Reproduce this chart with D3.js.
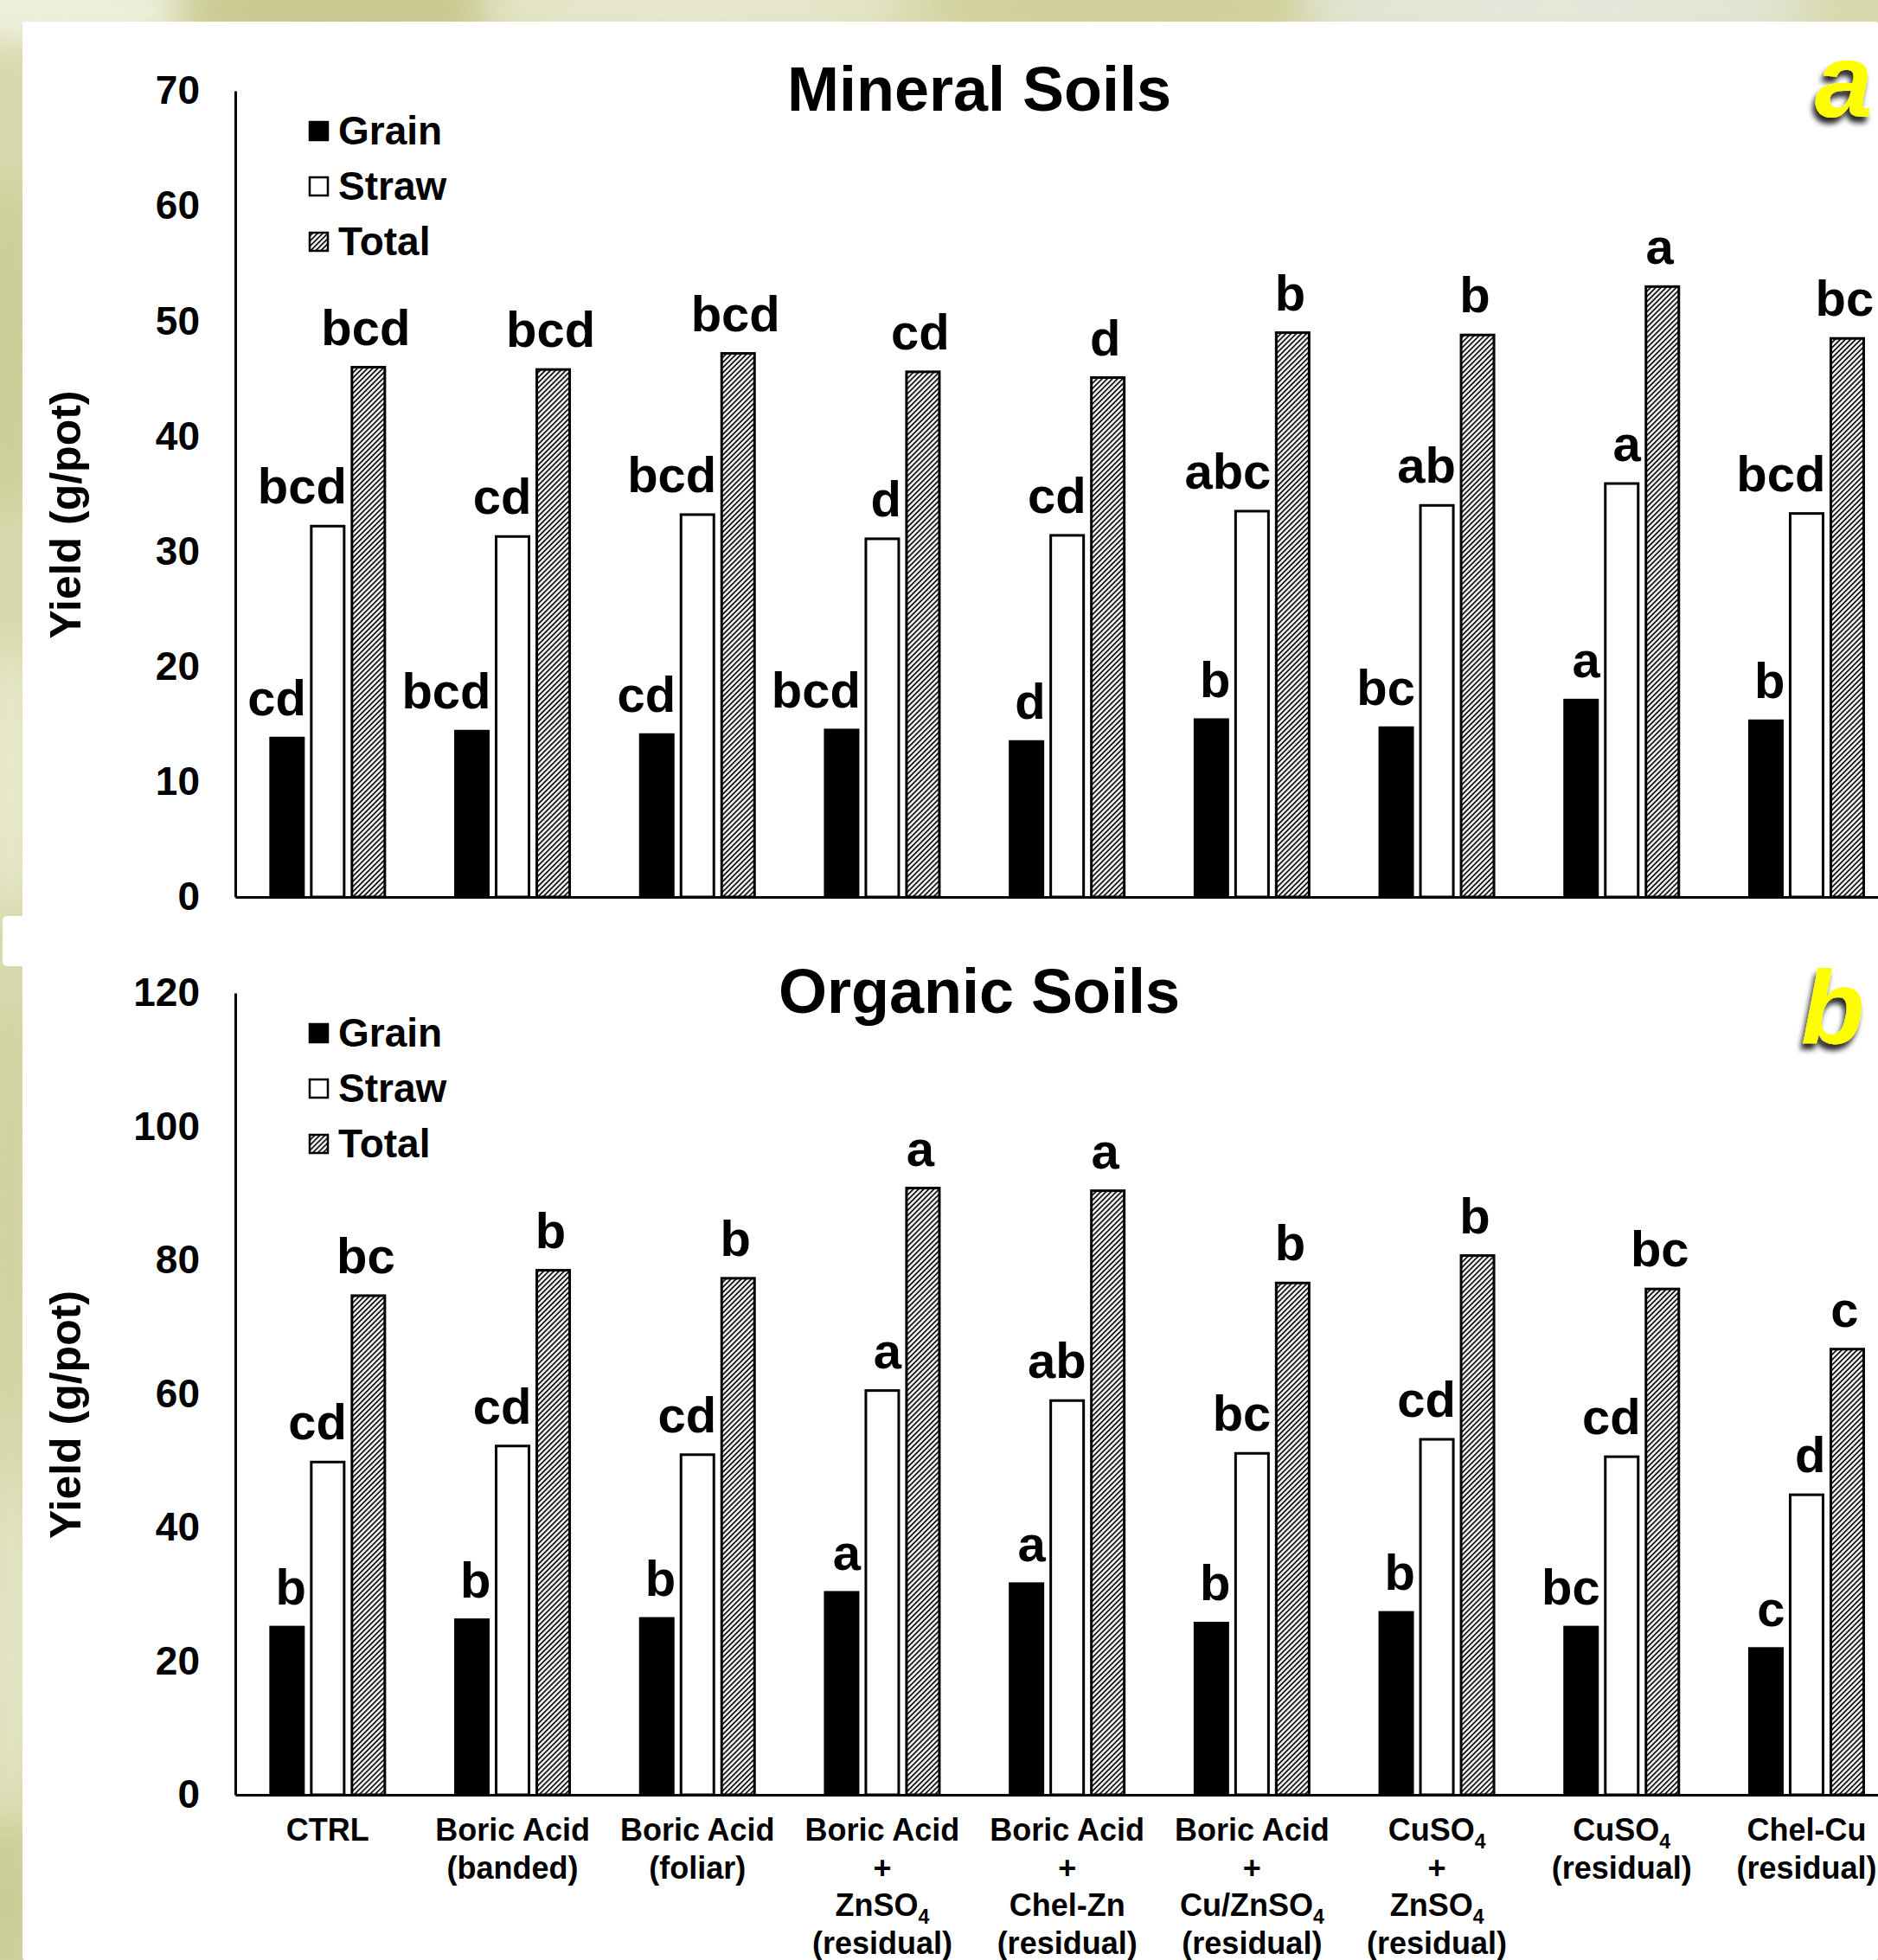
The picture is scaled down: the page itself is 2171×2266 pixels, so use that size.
<!DOCTYPE html>
<html>
<head>
<meta charset="utf-8">
<script src="https://cdn.jsdelivr.net/npm/d3@7"></script>
<style>
  html, body { margin: 0; padding: 0; background: #fff; }
  svg { display: block; }
  text { font-family: "Liberation Sans", Arial, sans-serif; font-weight: bold; fill: #000; }
</style>
</head>
<body>
<svg id="chart" width="2171" height="2266"></svg>
<script>
// ---------------- DATA ----------------
const categories = [
  "CTRL",
  "Boric Acid|(banded)",
  "Boric Acid|(foliar)",
  "Boric Acid|+|ZnSO_4|(residual)",
  "Boric Acid|+|Chel-Zn|(residual)",
  "Boric Acid|+|Cu/ZnSO_4|(residual)",
  "CuSO_4|+|ZnSO_4|(residual)",
  "CuSO_4|(residual)",
  "Chel-Cu|(residual)"
];
const seriesNames = ["Grain", "Straw", "Total"];

const mineralGrain = [13.8, 14.4, 14.1, 14.5, 13.5, 15.4, 14.7, 17.1, 15.3];
const mineralStraw = [32.2, 31.3, 33.2, 31.1, 31.4, 33.5, 34.0, 35.9, 33.3];
const mineralTotal = [46.0, 45.8, 47.2, 45.6, 45.1, 49.0, 48.8, 53.0, 48.5];
const mineralGrainLetters = ["cd", "bcd", "cd", "bcd", "d", "b", "bc", "a", "b"];
const mineralStrawLetters = ["bcd", "cd", "bcd", "d", "cd", "abc", "ab", "a", "bcd"];
const mineralTotalLetters = ["bcd", "bcd", "bcd", "cd", "d", "b", "b", "a", "bc"];
const mineralTicks = [0, 10, 20, 30, 40, 50, 60, 70];

const organicGrain = [25.1, 26.2, 26.4, 30.3, 31.6, 25.7, 27.3, 25.1, 21.9];
const organicStraw = [49.8, 52.2, 50.9, 60.5, 59.0, 51.1, 53.2, 50.6, 44.9];
const organicTotal = [74.7, 78.5, 77.3, 90.8, 90.4, 76.6, 80.7, 75.7, 66.7];
const organicGrainLetters = ["b", "b", "b", "a", "a", "b", "b", "bc", "c"];
const organicStrawLetters = ["cd", "cd", "cd", "a", "ab", "bc", "cd", "cd", "d"];
const organicTotalLetters = ["bc", "b", "b", "a", "a", "b", "b", "bc", "c"];
const organicTicks = [0, 20, 40, 60, 80, 100, 120];

// ---------------- DRAW ----------------
const svg = d3.select("#chart");
const W = 2171, H = 2266;
const defs = svg.append("defs");

defs.append("filter").attr("id", "bgblur").attr("x", "-50%").attr("y", "-50%").attr("width", "200%").attr("height", "200%")
  .append("feGaussianBlur").attr("stdDeviation", 18);
const sh = defs.append("filter").attr("id", "shadow").attr("x", "-30%").attr("y", "-30%").attr("width", "160%").attr("height", "160%");
sh.append("feDropShadow").attr("dx", -3).attr("dy", 7).attr("stdDeviation", 3).attr("flood-color", "#000").attr("flood-opacity", 0.85);

const pat = defs.append("pattern").attr("id", "hatch").attr("patternUnits", "userSpaceOnUse")
  .attr("width", 4.2).attr("height", 4.2).attr("patternTransform", "rotate(45)");
pat.append("rect").attr("width", 4.2).attr("height", 4.2).attr("fill", "#fff");
pat.append("line").attr("x1", 1).attr("y1", 0).attr("x2", 1).attr("y2", 4.2).attr("stroke", "#000").attr("stroke-width", 1.7);

// background photo-like
svg.append("rect").attr("width", W).attr("height", H).attr("fill", "#d8d9ad");
const blobs = svg.append("g").attr("filter", "url(#bgblur)");
[[60, 10, 160, 40, "#eef0dc"], [400, 12, 200, 30, "#c6c78a"], [800, 8, 250, 30, "#e8e9cf"],
 [1300, 10, 220, 35, "#cfd098"], [1800, 10, 300, 35, "#e5e7db"], [10, 400, 20, 200, "#c5c98c"],
 [12, 900, 18, 160, "#eef0d8"], [10, 1400, 18, 250, "#cdd09c"], [14, 1900, 16, 200, "#e9ead0"],
 [8, 2200, 20, 100, "#c4c88a"]]
  .forEach(b => blobs.append("ellipse").attr("cx", b[0]).attr("cy", b[1]).attr("rx", b[2]).attr("ry", b[3]).attr("fill", b[4]));

// white panels
svg.append("rect").attr("x", 26).attr("y", 25).attr("width", W - 26).attr("height", H - 25).attr("fill", "#fff").attr("rx", 3);
svg.append("rect").attr("x", 3).attr("y", 1059).attr("width", 40).attr("height", 58).attr("fill", "#fff").attr("rx", 5);

const axisX0 = 272;
const bandW = 213.7;
const x = d3.scaleBand().domain(categories).range([axisX0, axisX0 + bandW * categories.length]).padding(0);
const xs = d3.scaleBand().domain(seriesNames).range([bandW / 2 - 66, bandW / 2 + 66]).paddingInner(9 / 47).paddingOuter(0);
const fills = { Grain: "#000", Straw: "#fff", Total: "url(#hatch)" };

function drawPanel(cfg) {
  const y = d3.scaleLinear().domain([0, cfg.max]).range([cfg.y0, cfg.y1]);
  const g = svg.append("g");

  const ya = g.append("g").attr("transform", `translate(${axisX0},0)`)
    .call(d3.axisLeft(y).tickValues(cfg.ticks).tickSize(0).tickSizeOuter(0).tickPadding(41).tickFormat(d3.format("d")));
  ya.select(".domain").attr("stroke", "#000").attr("stroke-width", 3);
  ya.selectAll("text").style("font-size", "46px").style("font-weight", "bold")
    .style("font-family", '"Liberation Sans", Arial, sans-serif').attr("fill", "#000");

  const ty = (cfg.y0 + cfg.y1) / 2 + 24;
  g.append("text").attr("transform", `translate(93,${ty}) rotate(-90)`).attr("text-anchor", "middle")
    .style("font-size", "50px").text("Yield (g/pot)");

  const series = [
    { name: "Grain", vals: cfg.grain, letters: cfg.gl },
    { name: "Straw", vals: cfg.straw, letters: cfg.sl },
    { name: "Total", vals: cfg.total, letters: cfg.tl }
  ];
  series.forEach(s => {
    const bx = (i) => x(categories[i]) + xs(s.name);
    g.append("g").selectAll("rect").data(s.vals).join("rect")
      .attr("x", (d, i) => bx(i)).attr("y", d => y(d))
      .attr("width", xs.bandwidth()).attr("height", d => y(0) - y(d))
      .attr("fill", fills[s.name]).attr("stroke", "#000").attr("stroke-width", 3);
    g.append("g").selectAll("text").data(s.vals).join("text")
      .attr("x", (d, i) => s.name === "Total" ? bx(i) + xs.bandwidth() / 2 - 3 : bx(i) + xs.bandwidth() + 3)
      .attr("y", d => y(d) - 26)
      .attr("text-anchor", s.name === "Total" ? "middle" : "end")
      .style("font-size", "58px")
      .text((d, i) => s.letters[i]);
  });

  const xa = g.append("g").attr("transform", `translate(0,${cfg.y0})`)
    .call(d3.axisBottom(x).tickSize(0).tickSizeOuter(0).tickFormat(""));
  xa.select(".domain").attr("stroke", "#000").attr("stroke-width", 3);
  if (cfg.xlabels) {
    xa.selectAll(".tick text").each(function (d) {
      const t = d3.select(this).attr("y", 0).attr("dy", null)
        .style("font-size", "36px").style("font-weight", "bold")
        .style("font-family", '"Liberation Sans", Arial, sans-serif').attr("fill", "#000");
      d.split("|").forEach((line, li) => {
        const parts = line.split("_");
        t.append("tspan").attr("x", 0).attr("y", 53 + li * 43.5).text(parts[0]);
        if (parts.length > 1) {
          t.append("tspan").attr("dy", 9).style("font-size", "23px").text(parts[1]);
        }
      });
    });
  }

  g.append("text").attr("x", 1132).attr("y", cfg.y1 + 23).attr("text-anchor", "middle")
    .style("font-size", "72px").text(cfg.title);

  const lg = g.append("g");
  seriesNames.forEach((n, i) => {
    const by = cfg.y1 + 62 + i * 64;
    lg.append("rect").attr("x", 358).attr("y", by - 26).attr("width", 21).attr("height", 21)
      .attr("fill", fills[n]).attr("stroke", "#000").attr("stroke-width", 2.5);
    lg.append("text").attr("x", 391).attr("y", by).style("font-size", "46px").text(n);
  });

  g.append("text").attr("x", cfg.panelX).attr("y", cfg.panelY).attr("filter", "url(#shadow)")
    .style("font-size", "120px").style("font-style", "italic").style("fill", "#ffff00")
    .text(cfg.panel);
}

drawPanel({
  title: "Mineral Soils", max: 70, ticks: mineralTicks, y0: 1037, y1: 105,
  grain: mineralGrain, straw: mineralStraw, total: mineralTotal,
  gl: mineralGrainLetters, sl: mineralStrawLetters, tl: mineralTotalLetters,
  panel: "a", panelX: 2098, panelY: 135, xlabels: false
});
drawPanel({
  title: "Organic Soils", max: 120, ticks: organicTicks, y0: 2075, y1: 1148,
  grain: organicGrain, straw: organicStraw, total: organicTotal,
  gl: organicGrainLetters, sl: organicStrawLetters, tl: organicTotalLetters,
  panel: "b", panelX: 2082, panelY: 1207, xlabels: true
});
</script>
</body>
</html>
